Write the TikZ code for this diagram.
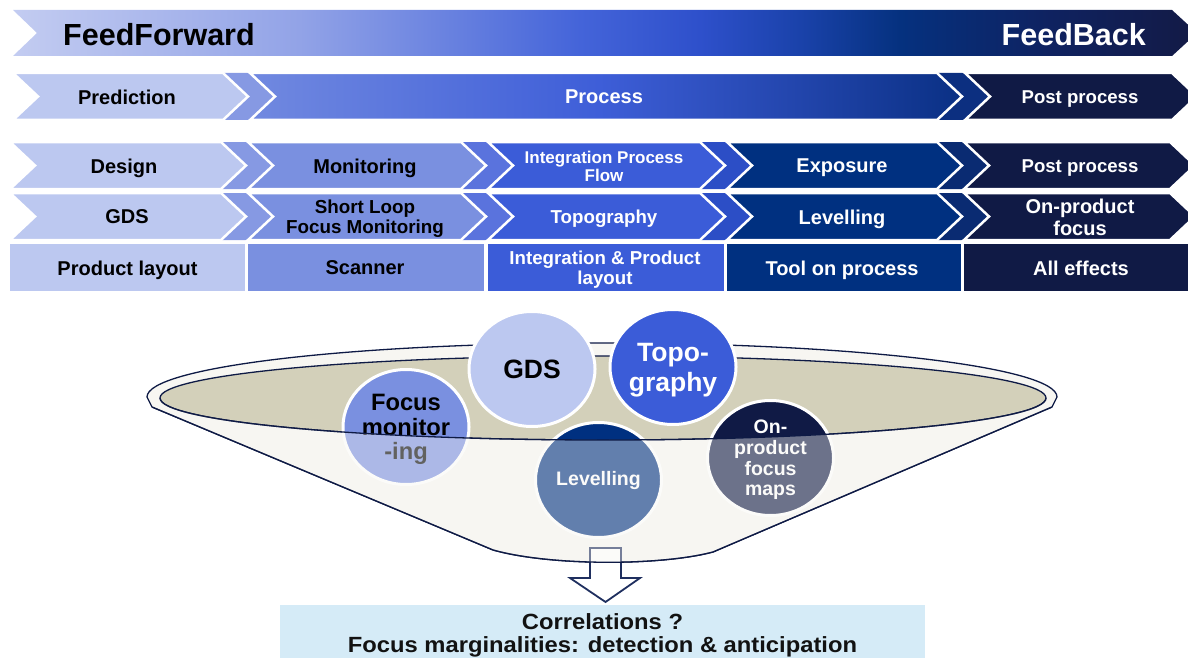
\documentclass[tikz,border=0pt]{standalone}
\usepackage{fontspec}
\setmainfont{Liberation Sans}
\newfontfamily\widesans[FakeStretch=1.08]{Liberation Sans}
\usetikzlibrary{shapes.geometric}
\definecolor{cA}{HTML}{BCC8F0}
\definecolor{cB}{HTML}{7A90E0}
\definecolor{cC}{HTML}{3B5CD8}
\definecolor{cD}{HTML}{003080}
\definecolor{cE}{HTML}{101A45}
\definecolor{gAB}{HTML}{8699E3}
\definecolor{gBC}{HTML}{5A73DD}
\definecolor{gCD}{HTML}{2C4EC6}
\definecolor{gDE}{HTML}{0A2B72}
\definecolor{gPP}{HTML}{0C2F80}
\definecolor{tbA}{HTML}{C3CCF1}
\definecolor{tbB}{HTML}{92A3E7}
\definecolor{tbC}{HTML}{4464D9}
\definecolor{tbD}{HTML}{2E50CB}
\definecolor{tbE}{HTML}{1A42AA}
\definecolor{tbF}{HTML}{05317F}
\definecolor{tbG}{HTML}{0F2260}
\definecolor{tbH}{HTML}{131A45}
\definecolor{prA}{HTML}{7189E0}
\definecolor{prB}{HTML}{3E5ED8}
\definecolor{prC}{HTML}{2245AC}
\definecolor{prD}{HTML}{0A3084}
\definecolor{cream}{HTML}{F7F6F2}
\definecolor{khaki}{HTML}{D3D0BA}
\definecolor{bowlline}{HTML}{0E1A45}
\definecolor{boxblue}{HTML}{D5EBF7}
\definecolor{arrowline}{HTML}{1F2F5F}
\pgfdeclarehorizontalshading{topbar}{100bp}{color(0bp)=(tbA); color(25bp)=(tbA); color(37.1bp)=(tbB); color(48.95bp)=(tbC); color(54bp)=(tbD); color(58.25bp)=(tbE); color(62.45bp)=(tbF); color(68.8bp)=(tbG); color(75bp)=(tbH); color(100bp)=(tbH)}
\pgfdeclarehorizontalshading{procbar}{100bp}{color(0bp)=(prA); color(25bp)=(prA); color(49.5bp)=(prB); color(63.5bp)=(prC); color(75bp)=(prD); color(100bp)=(prD)}
\newcommand{\fsz}[2]{\fontsize{#1}{#2}\selectfont}
\newcommand{\nodesc}[1]{\raisebox{0pt}[\height][0pt]{#1}}
\newcommand{\chevfill}[5]{\path[#5] (#1,#3) -- (#2,#3) -- ({#2+25},{(#3+#4)/2}) -- (#2,#4) -- (#1,#4) -- ({#1+25},{(#3+#4)/2}) -- cycle;}
\begin{document}
\begin{tikzpicture}[x=1pt,y=-1pt,
  lbl/.style={inner sep=0pt, text depth=0pt, font=\bfseries\fsz{20}{22}},
  mlbl/.style={inner sep=0pt, align=center},
  cellborder/.style={draw=white, line width=2.5pt, line join=miter},
  bubble/.style={ellipse, draw=white, line width=3pt, minimum width=126pt, minimum height=115pt, inner sep=0pt, align=center},
  bowl/.style={draw=bowlline, line width=1.3pt}]
\useasboundingbox (0,0) rectangle (1188,658);
\clip (0,0) rectangle (1188,658);
% row 1
\shade[shading=topbar] (13,10) -- (1172,10) -- (1197,33) -- (1172,56) -- (13,56) -- (37,33) -- cycle;
\node[lbl, anchor=west, font=\bfseries\fsz{30.5}{32}] (ff) at (63,34) {FeedForward};
\node[lbl, anchor=east, text=white, font=\bfseries\fsz{30.5}{32}] (fb) at (1146,34) {FeedBack};
% row 2
\chevfill{223}{250}{73}{120}{fill=gAB}
\chevfill{937}{965}{73}{120}{fill=gPP}
\chevfill{13}{223}{73}{120}{fill=cA, cellborder}
\shadedraw[shading=procbar, cellborder] (250,73) -- (937,73) -- (962,96.5) -- (937,120) -- (250,120) -- (275,96.5) -- cycle;
\chevfill{965}{1172}{73}{120}{fill=cE, cellborder}
\node[lbl] (pred) at (127,97) {Prediction};
\node[lbl, text=white] (proc) at (604,97) {Process};
\node[lbl, text=white, font=\bfseries\fsz{18.6}{20}] (post2) at (1080,97) {Post process};
% rows 3 and 4
\foreach \t/\b in {142/189, 193/240}{
  \chevfill{221}{248}{\t}{\b}{fill=gAB}
  \chevfill{461}{488}{\t}{\b}{fill=gBC}
  \chevfill{700}{727}{\t}{\b}{fill=gCD}
  \chevfill{937}{964}{\t}{\b}{fill=gDE}
  \chevfill{10}{221}{\t}{\b}{fill=cA, cellborder}
  \chevfill{248}{461}{\t}{\b}{fill=cB, cellborder}
  \chevfill{488}{700}{\t}{\b}{fill=cC, cellborder}
  \chevfill{727}{937}{\t}{\b}{fill=cD, cellborder}
  \chevfill{964}{1170}{\t}{\b}{fill=cE, cellborder}
}
\node[lbl] (design) at (124,166) {Design};
\node[lbl] (monit) at (365,166) {Monitoring};
\node[mlbl, text=white, font=\bfseries\fsz{17}{18}] (ipf) at (604,166) {Integration Process\\\nodesc{Flow}};
\node[lbl, text=white] (expo) at (842,166) {Exposure};
\node[lbl, text=white, font=\bfseries\fsz{18.6}{20}] (post3) at (1080,166) {Post process};
\node[lbl] (gds) at (127,217) {GDS};
\node[mlbl, font=\bfseries\fsz{18.8}{20}] (slfm) at (365,217) {Short Loop\\\nodesc{Focus Monitoring}};
\node[lbl, text=white, font=\bfseries\fsz{18.7}{20}] (topo) at (604,217) {Topography};
\node[lbl, text=white] (lev) at (842,217) {Levelling};
\node[mlbl, text=white, font=\bfseries\fsz{20}{22.5}] (opf) at (1080,217.5) {On-product\\\nodesc{focus}};
% row 5
\fill[cA] (10,244) rectangle (245,291);
\fill[cB] (248,244) rectangle (484,291);
\fill[cC] (488,244) rectangle (724,291);
\fill[cD] (727,244) rectangle (961,291);
\fill[cE] (964,244) rectangle (1188,291);
\node[lbl] (prodlay) at (127.5,268) {Product layout};
\node[lbl] (scan) at (365,268) {Scanner};
\node[mlbl, text=white, font=\bfseries\fsz{18.7}{20}] (iplay) at (605,268) {Integration \& Product\\\nodesc{layout}};
\node[lbl, text=white] (tool) at (842,268) {Tool on process};
\node[lbl, text=white] (alleff) at (1081,268) {All effects};
% bowl back
\filldraw[fill=cream, bowl] (147,397) arc[start angle=180, end angle=360, x radius=455, y radius=54] -- (1052,407) -- (713,552) .. controls (660,566) and (550,566) .. (493,550) -- (152,407) -- cycle;
\filldraw[fill=khaki, bowl] (603,398) ellipse [x radius=443, y radius=42];
% arrow
\filldraw[fill=white, draw=arrowline, line width=1.8pt, line join=miter] (590,548) -- (621,548) -- (621,578) -- (640,578) -- (605.5,602) -- (570,578) -- (590,578) -- cycle;
% bubbles
\node[bubble, fill=cB, font=\bfseries\fsz{23.7}{24.5}] (bfoc) at (406,427) {Focus\\monitor\\\nodesc{-ing}};
\node[bubble, fill=cA, font=\bfseries\fsz{26.5}{28}] (bgds) at (532,369) {GDS};
\node[bubble, fill=cC, text=white, font=\bfseries\fsz{26.5}{30}] (btopo) at (673,367) {Topo-\\\nodesc{graphy}};
\node[bubble, fill=cD, text=white, font=\bfseries\fsz{19.5}{21}] (blev) at (598.5,480) {Levelling};
\node[bubble, fill=cE, text=white, font=\bfseries\fsz{19.5}{20.7}] (bopf) at (770.5,458) {On-\\product\\focus\\\nodesc{maps}};
% bowl front (semi-transparent)
\fill[cream, fill opacity=0.4] (152,407) -- (493,550) .. controls (550,566) and (660,566) .. (713,552) -- (1052,407) -- (1046,398) arc[start angle=0, end angle=180, x radius=443, y radius=42] -- cycle;
\draw[bowl] (152,407) -- (493,550) .. controls (550,566) and (660,566) .. (713,552) -- (1052,407);
\draw[bowl] (160,398) arc[start angle=180, end angle=0, x radius=443, y radius=42];
% result box
\node[fill=boxblue, minimum width=645pt, minimum height=56pt, inner sep=0pt, align=center, text=black!93, font=\widesans\bfseries\fsz{22}{22.5}] (corr) at (602.5,633) {Correlations ?\\\nodesc{Focus marginalities: detection \& anticipation}};
\end{tikzpicture}
\end{document}
